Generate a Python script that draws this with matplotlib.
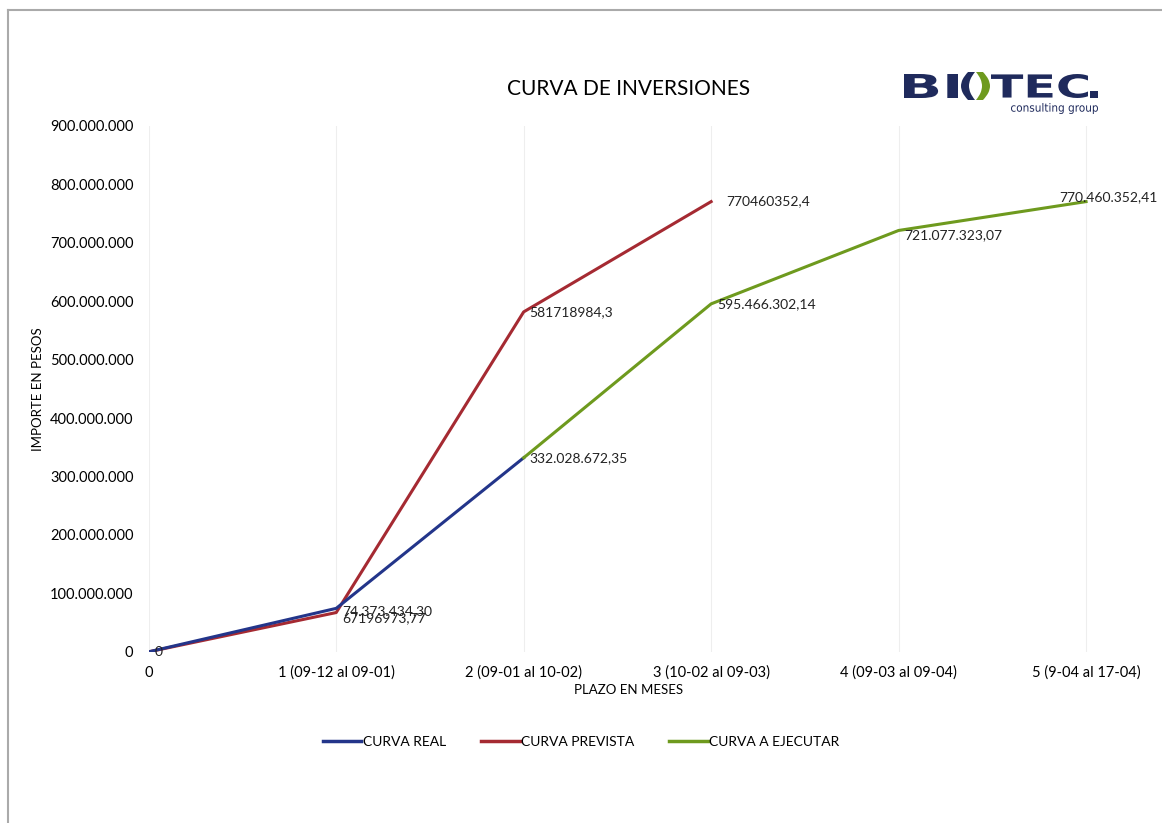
import matplotlib.pyplot as plt
from matplotlib.lines import Line2D
from matplotlib.textpath import TextPath
from matplotlib.patches import PathPatch
from matplotlib.font_manager import FontProperties
from matplotlib.transforms import Affine2D, IdentityTransform

plt.rcParams['font.family'] = ['Lato', 'DejaVu Sans']

categorias = ["0", "1 (09-12 al 09-01)", "2 (09-01 al 10-02)", "3 (10-02 al 09-03)",
              "4 (09-03 al 09-04)", "5 (9-04 al 17-04)"]

real_x = [0, 1, 2]
real_y = [0, 74373434.30, 332028672.35]
real_lbl = ["0", "74.373.434,30", "332.028.672,35"]

prev_x = [0, 1, 2, 3]
prev_y = [0, 67196973.77, 581718984.3, 770460352.4]
prev_lbl = ["0", "67196973,77", "581718984,3", "770460352,4"]

ejec_x = [2, 3, 4, 5]
ejec_y = [332028672.35, 595466302.14, 721077323.07, 770460352.41]
ejec_lbl = ["", "595.466.302,14", "721.077.323,07", "770.460.352,41"]

y_ticks = [i * 100000000 for i in range(10)]
y_tick_lbl = ["0", "100.000.000", "200.000.000", "300.000.000", "400.000.000",
              "500.000.000", "600.000.000", "700.000.000", "800.000.000", "900.000.000"]

c_real = "#23358a"
c_prev = "#a52a32"
c_ejec = "#6e9a1e"
c_logo = "#1f2a5c"

W, H = 1162, 823
fig = plt.figure(figsize=(W / 100, H / 100), dpi=100)
ax = fig.add_axes([0.128, 0.208, 0.826, 0.639])

ax.plot(prev_x, prev_y, color=c_prev, lw=2.2)
ax.plot(real_x, real_y, color=c_real, lw=2.2)
ax.plot(ejec_x, ejec_y, color=c_ejec, lw=2.2)

fs = 10
ax.text(0.03, 0, "0", fontsize=fs, va="center", ha="left", color="#222222")
ax.text(1.03, real_y[1] - 4000000, real_lbl[1], fontsize=fs, va="center", ha="left", color="#222222")
ax.text(1.03, prev_y[1] - 10000000, prev_lbl[1], fontsize=fs, va="center", ha="left", color="#222222")
ax.text(2.03, real_y[2], real_lbl[2], fontsize=fs, va="center", ha="left", color="#222222")
ax.text(2.03, prev_y[2], prev_lbl[2], fontsize=fs, va="center", ha="left", color="#222222")
ax.text(3.08, prev_y[3], prev_lbl[3], fontsize=fs, va="center", ha="left", color="#222222")
ax.text(3.03, ejec_y[1], ejec_lbl[1], fontsize=fs, va="center", ha="left", color="#222222")
ax.text(4.03, ejec_y[2] - 8000000, ejec_lbl[2], fontsize=fs, va="center", ha="left", color="#222222")
fig.text(1158 / W, 1 - 197 / H, ejec_lbl[3], fontsize=fs, va="center", ha="right", color="#222222")

ax.set_xlim(0, 5.12)
ax.set_ylim(0, 900000000)
ax.set_xticks(range(len(categorias)))
ax.set_xticklabels(categorias, fontsize=10.5)
ax.set_yticks(y_ticks)
ax.set_yticklabels(y_tick_lbl, fontsize=10.5)
ax.tick_params(length=0, pad=10)
ax.tick_params(axis="y", pad=11)
for s in ax.spines.values():
    s.set_visible(False)
ax.grid(axis="x", color="#eeeeee", lw=0.8)
ax.set_axisbelow(True)

ax.set_xlabel("PLAZO EN MESES", fontsize=9.5, labelpad=3)
ax.set_ylabel("IMPORTE EN PESOS", fontsize=9.5, labelpad=4)
ax.set_title("CURVA DE INVERSIONES", fontsize=15, pad=22)

handles = [Line2D([], [], color=c_real, lw=2.5),
           Line2D([], [], color=c_prev, lw=2.5),
           Line2D([], [], color=c_ejec, lw=2.5)]
fig.legend(handles, ["CURVA REAL", "CURVA PREVISTA", "CURVA A EJECUTAR"],
           loc="center", bbox_to_anchor=(0.5, 0.099), ncol=3, frameon=False,
           fontsize=10, handlelength=2.8, handletextpad=0.1, columnspacing=2.5)


# logo: fit text outlines into pixel boxes (x0, x1, top, bottom from image top)
def logo_piece(s, x0, x1, top, bottom, color, weight="bold"):
    fp = FontProperties(family="DejaVu Sans", weight=weight)
    tp = TextPath((0, 0), s, size=1, prop=fp)
    ext = tp.get_extents()
    sx = (x1 - x0) / ext.width
    sy = (bottom - top) / ext.height
    tr = Affine2D().translate(-ext.x0, -ext.y0).scale(sx, sy).translate(x0, H - bottom)
    fig.add_artist(PathPatch(tr.transform_path(tp), color=color, lw=0,
                             transform=IdentityTransform()))


logo_piece("BI", 904, 958, 74, 98, c_logo)
logo_piece("(", 961, 975, 72, 100, c_logo)
logo_piece(")", 976, 990, 72, 100, c_ejec)
logo_piece("TEC", 991, 1088, 74, 98, c_logo)
logo_piece(".", 1090, 1098, 91, 98, c_logo)
logo_piece("consulting group", 1011, 1098, 103, 114, c_logo, weight="normal")

# scan frame
fig.add_artist(Line2D([0.007, 0.007], [0, 0.988], color="#aaaaaa", lw=1.5, transform=fig.transFigure))
fig.add_artist(Line2D([0.007, 1], [0.988, 0.988], color="#aaaaaa", lw=1.5, transform=fig.transFigure))

fig.savefig("out.png", dpi=100)
